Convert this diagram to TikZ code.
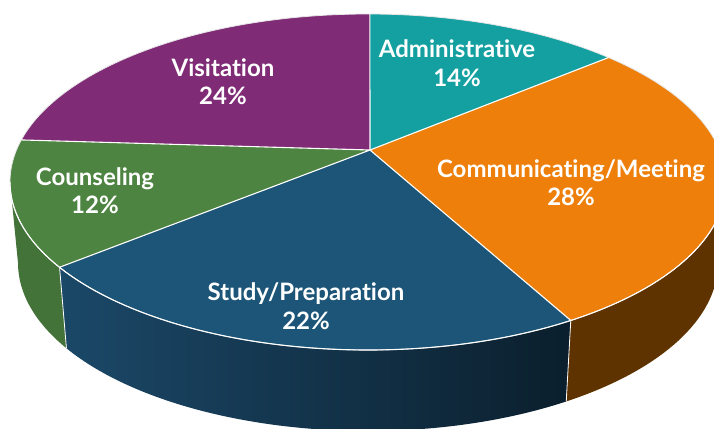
\documentclass[tikz,border=0pt]{standalone}
\usepackage{fontspec}
\setmainfont{Lato}[Ligatures={NoCommon,NoRare}]
\definecolor{visitC}{RGB}{127,43,117}
\definecolor{adminC}{RGB}{20,160,160}
\definecolor{commC}{RGB}{237,127,10}
\definecolor{studyC}{RGB}{28,85,119}
\definecolor{counsC}{RGB}{78,132,65}
\definecolor{counsS}{RGB}{68,115,58}
\definecolor{studyL}{RGB}{27,72,104}
\definecolor{studyR}{RGB}{11,31,45}
\definecolor{commS}{RGB}{94,51,0}
\begin{document}
\begin{tikzpicture}[x=1pt,y=1pt,
  lbl/.style={text=white, font=\bfseries\fontsize{24}{28}\selectfont, anchor=base, inner sep=0pt},
  sepline/.style={draw=white, line width=1.1pt, line join=round},
  topR/.style={x radius=358, y radius=168},
  botR/.style={x radius=350, y radius=168}]
\useasboundingbox (0,0) rectangle (714,-428);
\clip (0,0) rectangle (714,-428);
\coordinate (C) at (368,-182);
\coordinate (B) at (368,-263);
\coordinate (O) at (370,-150);
% top rim points
\path (C) ++(89.7:358 and 168) coordinate (ta);
\path (C) ++(47.8:358 and 168) coordinate (tb);
\path (C) ++(-55.5:358 and 168) coordinate (tc);
\path (C) ++(210.5:358 and 168) coordinate (td);
\path (C) ++(165.5:358 and 168) coordinate (te);
\path (C) ++(180:358 and 168) coordinate (tl);
% bottom rim points
\path (B) ++(-55.5:350 and 168) coordinate (bc);
\path (B) ++(210.5:350 and 168) coordinate (bd);
\path (B) ++(180:350 and 168) coordinate (bl);
\path (B) ++(0:350 and 168) coordinate (br);
% side walls
\fill[counsS] (tl) arc[start angle=180, end angle=210.5, topR] -- (bd)
  arc[start angle=210.5, end angle=180, botR] -- cycle;
\shade[left color=studyL, right color=studyR] (td) arc[start angle=210.5, end angle=304.5, topR] -- (bc)
  arc[start angle=304.5, end angle=210.5, botR] -- cycle;
\fill[commS] (tc) arc[start angle=304.5, end angle=360, topR] -- (br)
  arc[start angle=360, end angle=304.5, botR] -- cycle;
\draw[sepline, line width=0.8pt] (td) -- (bd) (tc) -- (bc);
% top faces
\fill[studyC] (O) -- (td) arc[start angle=210.5, end angle=304.5, topR] -- cycle;
\fill[commC] (O) -- (tc) arc[start angle=-55.5, end angle=47.8, topR] -- cycle;
\fill[adminC] (O) -- (tb) arc[start angle=47.8, end angle=89.7, topR] -- cycle;
\fill[visitC] (O) -- (ta) arc[start angle=89.7, end angle=165.5, topR] -- cycle;
\fill[counsC] (O) -- (te) arc[start angle=165.5, end angle=210.5, topR] -- cycle;
\draw[white!80!gray, line width=0.8pt] (C) ellipse[topR];
\draw[sepline] (O) -- (ta) (O) -- (tb) (O) -- (tc) (O) -- (td) (O) -- (te);
\draw[white, line width=1.1pt] (tl) arc[start angle=180, end angle=360, topR];
% labels
\node[lbl] (visit) at (223,-76) {Visitation};
\node[lbl] (visitp) at (223,-104) {24\%};
\node[lbl] (admin) at (457,-57) {Administrative};
\node[lbl] (adminp) at (457,-86) {14\%};
\node[lbl] (comm) at (571,-177) {Communicating/Meeting};
\node[lbl] (commp) at (571,-205) {28\%};
\node[lbl] (couns) at (95,-185) {Counseling};
\node[lbl] (counsp) at (95,-213) {12\%};
\node[lbl] (study) at (306,-300) {Study/Preparation};
\node[lbl] (studyp) at (306,-329) {22\%};
\end{tikzpicture}
\end{document}
